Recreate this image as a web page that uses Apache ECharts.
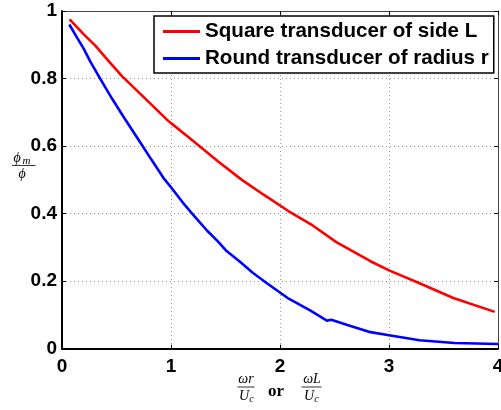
<!DOCTYPE html>
<html><head><meta charset="utf-8">
<script src="https://cdn.jsdelivr.net/npm/echarts@6/dist/echarts.min.js"></script>
<style>html,body{margin:0;padding:0;background:#fff;overflow:hidden}#c{width:501px;height:410px}</style>
</head><body><div id="c"></div>
<script>
const seriesNames = ['Square transducer of side L', 'Round transducer of radius r'];
const squareX = [0.07,0.2,0.31,0.4,0.55,0.74,0.96,1.0,1.17,1.43,1.65,1.85,2.08,2.3,2.52,2.83,3.0,3.28,3.59,3.97];
const squareY = [0.975,0.931,0.896,0.862,0.807,0.748,0.679,0.668,0.624,0.555,0.500,0.456,0.407,0.365,0.315,0.259,0.232,0.194,0.150,0.109];
const roundX = [0.067,0.138,0.2,0.26,0.35,0.46,0.57,0.72,0.82,0.93,1.0,1.11,1.2,1.33,1.43,1.51,1.63,1.75,1.88,2.08,2.28,2.43,2.47,2.64,2.83,3.0,3.28,3.6,4.0];
const roundY = [0.960,0.921,0.888,0.850,0.800,0.740,0.684,0.610,0.560,0.506,0.478,0.432,0.398,0.350,0.318,0.289,0.258,0.225,0.194,0.148,0.113,0.083,0.086,0.068,0.049,0.040,0.025,0.017,0.014];
const xTicks = [0,1,2,3,4];
const yTicks = [0,0.2,0.4,0.6,0.8,1];

const zip = (xs, ys) => xs.map((x, i) => [x, ys[i]]);
const tickFont = {color:'#000', fontWeight:'bold', fontSize:19, fontFamily:'"Liberation Sans", Arial, sans-serif'};
const serif = '"Liberation Serif", "DejaVu Serif", serif';

const chart = echarts.init(document.getElementById('c'), null, {renderer:'canvas'});
chart.setOption({
  animation:false,
  backgroundColor:'#fff',
  grid:{left:62, right:3, top:11, bottom:61.3, containLabel:false, outerBoundsMode:'none'},
  xAxis:[{
    type:'value', min:xTicks[0], max:xTicks[xTicks.length-1], interval:1,
    axisLine:{show:true, onZero:false, lineStyle:{color:'#000', width:2}},
    axisTick:{show:true, inside:true, length:4, lineStyle:{color:'#000', width:1}},
    axisLabel:Object.assign({margin:9, showMaxLabel:true, showMinLabel:true, hideOverlap:false}, tickFont),
    splitLine:{show:true, lineStyle:{color:'#999', width:1, type:[1,3]}}
  },{
    type:'value', position:'top', min:xTicks[0], max:xTicks[xTicks.length-1], interval:1,
    axisLine:{show:true, onZero:false, lineStyle:{color:'#444', width:1}},
    axisTick:{show:true, inside:true, length:4, lineStyle:{color:'#000'}},
    axisLabel:{show:false}, splitLine:{show:false}
  }],
  yAxis:[{
    type:'value', min:yTicks[0], max:yTicks[yTicks.length-1], interval:0.2,
    axisLine:{show:true, onZero:false, lineStyle:{color:'#000', width:2}},
    axisTick:{show:true, inside:true, length:4, lineStyle:{color:'#000', width:1}},
    axisLabel:Object.assign({margin:5, showMaxLabel:true, showMinLabel:true, hideOverlap:false}, tickFont),
    splitLine:{show:true, lineStyle:{color:'#999', width:1, type:[1,3]}}
  },{
    type:'value', position:'right', min:yTicks[0], max:yTicks[yTicks.length-1], interval:0.2,
    axisLine:{show:true, onZero:false, lineStyle:{color:'#444', width:1}},
    axisTick:{show:true, inside:true, length:4, lineStyle:{color:'#000'}},
    axisLabel:{show:false}, splitLine:{show:false}
  }],
  legend:{
    left:154, top:16, orient:'vertical',
    backgroundColor:'#fff', borderColor:'#000', borderWidth:1.5,
    padding:[5,5,4,9], itemGap:6, itemWidth:37, itemHeight:3, icon:'rect',
    textStyle:{color:'#000', fontWeight:'bold', fontSize:20.6, lineHeight:20, fontFamily:'"Liberation Sans", Arial, sans-serif'},
    data:seriesNames
  },
  series:[
    {name:seriesNames[0], type:'line', data:zip(squareX, squareY), symbol:'none', smooth:false,
     lineStyle:{color:'#ff0000', width:2.6}, itemStyle:{color:'#ff0000'}, z:3},
    {name:seriesNames[1], type:'line', data:zip(roundX, roundY), symbol:'none', smooth:false,
     lineStyle:{color:'#0000ff', width:2.6}, itemStyle:{color:'#0000ff'}, z:3}
  ],
  graphic:[
    // y-axis name: phi_m / phi
    {type:'text', style:{text:'ϕ', x:17, y:158, fill:'#000', font:'italic 14px '+serif, textAlign:'center', textVerticalAlign:'middle'}},
    {type:'text', style:{text:'m', x:26.5, y:161, fill:'#000', font:'italic 11px '+serif, textAlign:'center', textVerticalAlign:'middle'}},
    {type:'line', shape:{x1:12, y1:165.5, x2:35.5, y2:165.5}, style:{stroke:'#000', lineWidth:0.8}},
    {type:'text', style:{text:'ϕ', x:22, y:174, fill:'#000', font:'italic 14px '+serif, textAlign:'center', textVerticalAlign:'middle'}},
    // x-axis name: ωr/U_c or ωL/U_c
    {type:'text', style:{text:'ωr', x:246, y:379, fill:'#000', font:'italic 14px '+serif, textAlign:'center', textVerticalAlign:'middle'}},
    {type:'line', shape:{x1:237.5, y1:387, x2:254.5, y2:387}, style:{stroke:'#000', lineWidth:0.8}},
    {type:'text', style:{text:'U', x:244, y:396, fill:'#000', font:'italic 14px '+serif, textAlign:'center', textVerticalAlign:'middle'}},
    {type:'text', style:{text:'c', x:251.5, y:399, fill:'#000', font:'italic 10px '+serif, textAlign:'center', textVerticalAlign:'middle'}},
    {type:'text', style:{text:'or', x:276, y:392, fill:'#000', font:'bold 17px '+serif, textAlign:'center', textVerticalAlign:'middle'}},
    {type:'text', style:{text:'ωL', x:312, y:379, fill:'#000', font:'italic 14px '+serif, textAlign:'center', textVerticalAlign:'middle'}},
    {type:'line', shape:{x1:301.5, y1:387, x2:321.5, y2:387}, style:{stroke:'#000', lineWidth:0.8}},
    {type:'text', style:{text:'U', x:309, y:396, fill:'#000', font:'italic 14px '+serif, textAlign:'center', textVerticalAlign:'middle'}},
    {type:'text', style:{text:'c', x:316.5, y:399, fill:'#000', font:'italic 10px '+serif, textAlign:'center', textVerticalAlign:'middle'}}
  ]
});
</script></body></html>
